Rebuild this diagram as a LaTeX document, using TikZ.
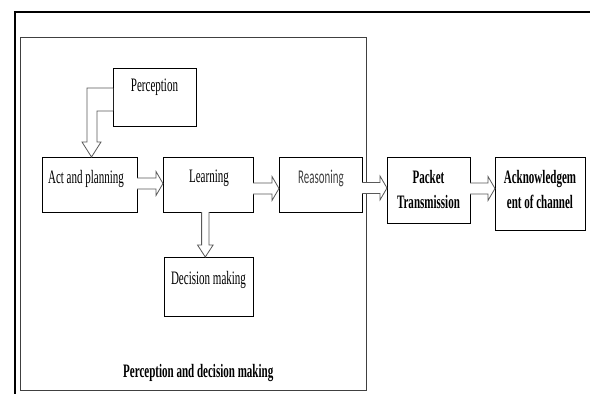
\documentclass[tikz,border=0pt]{standalone}
\usepackage{fontspec}
\setmainfont{Liberation Serif}[FakeStretch=0.58]
\newfontfamily\reasonfont{Carlito}[FakeStretch=0.56]
\usetikzlibrary{calc}

% hollow block arrow pointing right, from node #1 to node #2, axis at y=#3
\newcommand{\rightblock}[3]{%
    \path (#1.east |- 0,#3) coordinate (ra) (#2.west |- 0,#3) coordinate (rb);
    \draw[blockarrow] ($(ra)+(0,-5.5)$) -- ($(rb)+(-7,-5.5)$) -- ($(rb)+(-7,-12)$)
        -- (rb) -- ($(rb)+(-7,12)$) -- ($(rb)+(-7,5.5)$) -- ($(ra)+(0,5.5)$);
}

\begin{document}
\begin{tikzpicture}[x=1pt, y=-1pt,
    box/.style={draw, line width=0.9pt, inner sep=0, outer sep=0, anchor=north west},
    txt/.style={anchor=base, inner sep=0, font=\fontsize{19}{23}\selectfont},
    bold/.style={txt, font=\fontsize{19}{23}\selectfont\bfseries},
    blockarrow/.style={draw=black!65, fill=white, line width=0.8pt, line join=miter}]
    \useasboundingbox (0,0) rectangle (590,394);

    % Outer frame
    \draw[line width=2.5pt] (15,394) -- (15,12);
    \draw[line width=1.2pt] (13.75,12) -- (590,12);

    % Perception and decision making block
    \node[box, draw=black!75, minimum width=345.5, minimum height=353] (pdm) at (20.5,37) {};
    \node[bold] (pdm-t) at ($(pdm.south)+(5,-13)$) {Perception and decision making};

    \node[box, minimum width=83, minimum height=58] (perc) at (113,68) {};
    \node[txt] (perc-t) at ($(perc.north)+(0,23)$) {Perception};

    \node[box, minimum width=95, minimum height=55] (act) at (42,157) {};
    \node[txt] (act-t) at ($(act.north)+(-3.5,26)$) {Act and planning};

    \node[box, minimum width=90, minimum height=55] (learn) at (163,157) {};
    \node[txt] (learn-t) at ($(learn.north)+(1,25)$) {Learning};

    \node[box, minimum width=83, minimum height=55] (reason) at (279,157) {};
    \node[txt, font=\reasonfont\fontsize{19.5}{23}\selectfont, text=black!75] (reason-t)
        at ($(reason.north)+(0.5,26)$) {Reasoning};

    \node[box, minimum width=89, minimum height=59] (dec) at (164,257) {};
    \node[txt] (dec-t) at ($(dec.north)+(0,27)$) {Decision making};

    % Transmission side
    \node[box, minimum width=83, minimum height=66] (packet) at (387,157) {};
    \node[bold] (packet-t1) at ($(packet.north)+(0,26)$) {Packet};
    \node[bold] (packet-t2) at ($(packet.north)+(0,51)$) {Transmission};

    \node[box, minimum width=90, minimum height=73] (ack) at (495,157) {};
    \node[bold] (ack-t1) at ($(ack.north)+(0,26)$) {Acknowledgem};
    \node[bold] (ack-t2) at ($(ack.north)+(0,51)$) {ent of channel};

    % Bent arrow from perception down to act and planning
    \draw[blockarrow] ($(perc.north west)+(0,20)$) -| ($(act.north)+(-2.5,-15)$)
        -- ($(act.north)+(-7.5,-15)$) -- ($(act.north)+(2,0)$)
        -- ($(act.north)+(11.5,-15)$) -- ($(act.north)+(7.5,-15)$)
        |- ($(perc.north west)+(0,43)$);

    % Arrow from learning down to decision making
    \path (learn.south -| 205.3,0) coordinate (da) (dec.north -| 205.3,0) coordinate (db);
    \draw[blockarrow] ($(da)+(-3.7,0)$) -- ($(db)+(-3.7,-12)$) -- ($(db)+(-7.8,-12)$)
        -- (db) -- ($(db)+(7.8,-12)$) -- ($(db)+(3.7,-12)$) -- ($(da)+(3.7,0)$);

    % Arrows along the chain
    \rightblock{act}{learn}{183.5}
    \rightblock{learn}{reason}{188.5}
    \rightblock{reason}{packet}{188}
    \rightblock{packet}{ack}{188.5}

\end{tikzpicture}
\end{document}
